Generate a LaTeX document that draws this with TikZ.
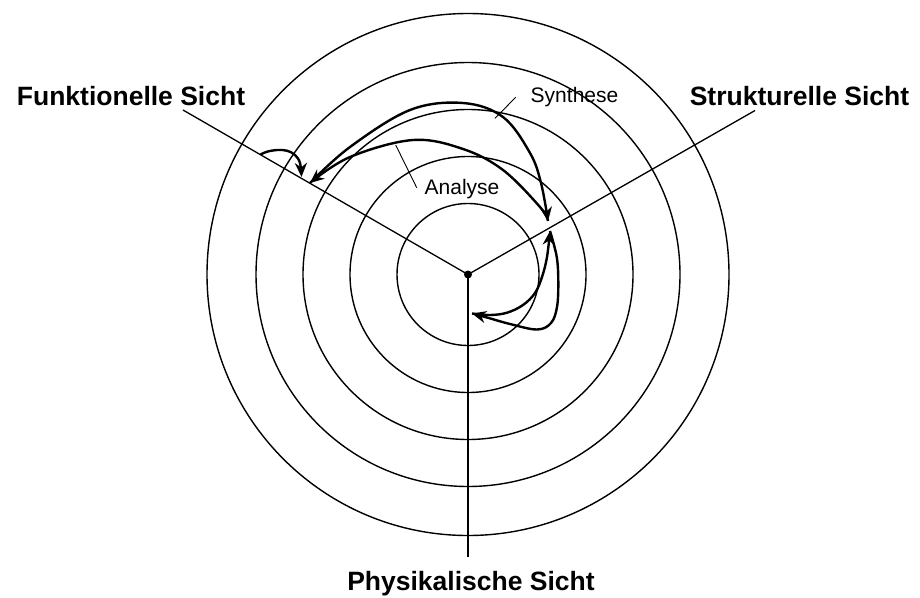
\documentclass[tikz,border=0pt]{standalone}
\usepackage{fontspec}
\setmainfont{Liberation Sans}
\usetikzlibrary{arrows.meta}
\begin{document}
\begin{tikzpicture}[x=1pt,y=-1pt,
  ring/.style={line width=1.4pt},
  axis/.style={line width=1.3pt},
  leader/.style={line width=0.9pt},
  flow/.style={line width=2.4pt,-{Stealth[length=14pt,width=12pt,inset=4.5pt]}},
  view/.style={font=\fontsize{26.5}{30}\selectfont\bfseries,anchor=base,inner sep=0pt},
  small/.style={font=\fontsize{21}{24}\selectfont,anchor=base,inner sep=0pt}]
\useasboundingbox (0,0) rectangle (920,597);
\coordinate (C) at (468,274.5);
\foreach \r in {71,118,165,212,261} \draw[ring] (C) circle[radius=\r pt];
\coordinate (Fe) at (183,110);
\coordinate (Se) at (755,110.5);
\coordinate (Pe) at (468,557);
\draw[axis] (C) -- (Fe);
\draw[axis] (C) -- (Se);
\draw[axis] (C) -- (Pe);
\fill (C) circle[radius=4pt];
\node[view] (fl) at (131,105.5) {Funktionelle Sicht};
\node[view] (sl) at (799.5,105) {Strukturelle Sicht};
\node[view] (pl) at (471,590) {Physikalische Sicht};
\node[small] (syn) at (574.5,102.7) {Synthese};
\node[small] (ana) at (462,194) {Analyse};
\coordinate (syn1) at (515.7,97.3);
\coordinate (syn2) at (495,118.3);
\coordinate (ana1) at (395.7,145);
\coordinate (ana2) at (416.7,187.7);
\draw[leader] (syn1) -- (syn2);
\draw[leader] (ana1) -- (ana2);
% arrow end points
\coordinate (fa) at (310,183);
\coordinate (sa) at (548,221);
\coordinate (sb) at (550,231);
\coordinate (pb) at (472,313.5);
\coordinate (s0) at (260.5,154.5);
\coordinate (s1) at (301.5,177);
% small arrow
\draw[flow] plot[smooth,tension=0.6] coordinates {(s0) (267,151.7) (277,150) (287,150.7) (295,155) (300,163) (s1)};
% synthese: F -> S (outer)
\draw[flow] plot[smooth,tension=0.6] coordinates {(fa) (350,147) (410,110) (463,103) (503,117) (530,153) (541,183) (sa)};
% analyse: S -> F (inner)
\draw[flow] plot[smooth,tension=0.6] coordinates {(sa) (540,207) (503,170) (463,149) (413,140) (350,157) (fa)};
% synthese: S -> P (outer)
\draw[flow] plot[smooth,tension=0.6] coordinates {(sb) (556.7,256.7) (558.3,282) (557,307) (551,323) (537,329.5) (510,324) (487,317.5) (pb)};
% analyse: P -> S (inner)
\draw[flow] plot[smooth,tension=0.6] coordinates {(pb) (490,315) (507,312.7) (523,305) (535,293) (542,277) (547,257) (sb)};
\end{tikzpicture}
\end{document}
